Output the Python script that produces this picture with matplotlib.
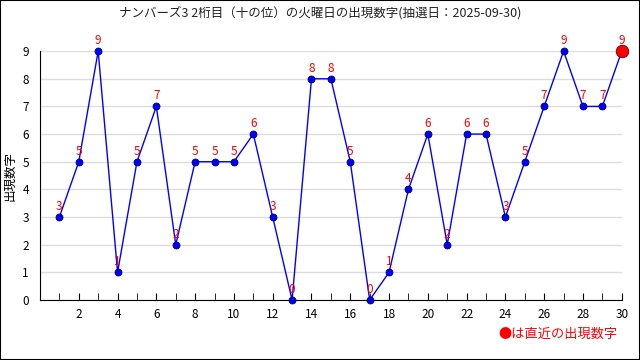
import matplotlib.pyplot as plt
from matplotlib.patches import Rectangle
import numpy as np

plt.rcParams['font.family'] = ['Noto Sans CJK JP', 'DejaVu Sans']

draws = list(range(1, 31))
digits = [3, 5, 9, 1, 5, 7, 2, 5, 5, 5, 6, 3, 0, 8, 8, 5, 0, 1, 4, 6,
          2, 6, 6, 3, 5, 7, 9, 7, 7, 9]
title = 'ナンバーズ3 2桁目（十の位）の火曜日の出現数字(抽選日：2025-09-30)'

fig = plt.figure(figsize=(6.4, 3.6), dpi=100)
ax = fig.add_axes([0.0625, 0.1667, 0.909, 0.6913])

ax.plot(draws, digits, color='blue', lw=1, marker='o', ms=5,
        mfc='blue', mec='#000066', mew=0.6, clip_on=False, zorder=3)
ax.plot(draws[-1], digits[-1], marker='o', ms=9, mfc='red', mec='#660000',
        mew=0.6, clip_on=False, zorder=4)
for x, y in zip(draws, digits):
    ax.annotate(str(y), xy=(x, y), xytext=(0, 3), textcoords='offset points',
                ha='center', va='bottom', color='red', fontsize=8.5)

ax.set_xlim(0, 30)
ax.set_ylim(0, 9)
ax.set_xticks(np.arange(2, 31, 2))
ax.set_xticks(np.arange(1, 31, 2), minor=True)
ax.set_yticks(np.arange(0, 10, 1))
ax.tick_params(axis='x', direction='in', length=5, labelsize=8.5, pad=6)
ax.tick_params(axis='x', which='minor', direction='in', length=5)
ax.tick_params(axis='y', length=0, labelsize=8.5, pad=8)
ax.yaxis.grid(True, color='#dddddd', lw=1)
ax.set_axisbelow(True)
for s in ['top', 'right']:
    ax.spines[s].set_visible(False)
ax.set_ylabel('出現数字', fontsize=9)

fig.text(0.5, 0.965, title, ha='center', va='center', fontsize=9, color='#222222')
fig.text(0.965, 0.07, '●は直近の出現数字', ha='right', va='center', fontsize=9.5, color='red')
fig.patches.append(Rectangle((0, 0), 1, 1, transform=fig.transFigure,
                             fill=False, ec='black', lw=1.5))

plt.savefig('out.png')
plt.close()
